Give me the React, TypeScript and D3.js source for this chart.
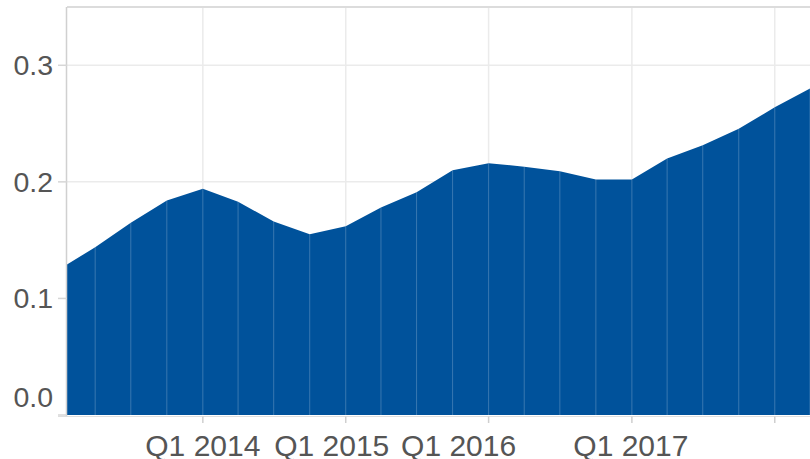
import React from "react";
import { scaleUtc, scaleLinear, area, utcYear, utcParse } from "d3";

// quarterly series (first point sits where the plot starts)
const dates = [
  "2013-01-19", "2013-04-01", "2013-07-01", "2013-10-01",
  "2014-01-01", "2014-04-01", "2014-07-01", "2014-10-01",
  "2015-01-01", "2015-04-01", "2015-07-01", "2015-10-01",
  "2016-01-01", "2016-04-01", "2016-07-01", "2016-10-01",
  "2017-01-01", "2017-04-01", "2017-07-01", "2017-10-01",
  "2018-01-01", "2018-04-01",
];
const values = [
  0.129, 0.144, 0.165, 0.184,
  0.194, 0.183, 0.166, 0.155,
  0.162, 0.178, 0.191, 0.210,
  0.216, 0.213, 0.209, 0.202,
  0.202, 0.220, 0.2315, 0.2455,
  0.264, 0.280,
];
const yTicks = [0, 0.1, 0.2, 0.3];
const xTickLabels = ["Q1 2014", "Q1 2015", "Q1 2016", "Q1 2017", ""];
// label nudges seen in the original layout
const xLabelShift = [0, -14, -30, -1, 0];

const parse = utcParse("%Y-%m-%d");
const data = dates.map((d, i) => ({ date: parse(d) as Date, value: values[i] }));

const W = 810;
const H = 459;
const m = { left: 67, right: 0, top: 7, bottom: 415 };

export default function App() {
  const x = scaleUtc()
    .domain([data[0].date, data[data.length - 1].date])
    .range([m.left, W - m.right]);
  const y = scaleLinear().domain([0, 0.35]).range([m.bottom, m.top]);

  const areaGen = area<{ date: Date; value: number }>()
    .x((d) => x(d.date))
    .y0(y(0))
    .y1((d) => y(d.value));

  const yearTicks = x.ticks(utcYear.every(1) as any);
  const grey = "#555";

  return (
    <svg
      width={W}
      height={H}
      style={{ position: "absolute", left: 0, top: 0, fontFamily: "'Liberation Sans', Arial, sans-serif" }}
    >
      <rect width={W} height={H} fill="#fff" />
      {/* gridlines */}
      {yTicks.slice(1).map((t) => (
        <line key={t} x1={m.left} x2={W} y1={y(t)} y2={y(t)} stroke="#ebebeb" strokeWidth={1.5} />
      ))}
      {yearTicks.map((t, i) => (
        <line key={i} x1={x(t)} x2={x(t)} y1={m.top} y2={m.bottom} stroke="#ebebeb" strokeWidth={1.5} />
      ))}
      {/* area */}
      <path d={areaGen(data) || ""} fill="#00529b" />
      {data.slice(1).map((d, i) => (
        <line
          key={i}
          x1={x(d.date)}
          x2={x(d.date)}
          y1={y(0)}
          y2={y(d.value)}
          stroke="rgba(255,255,255,0.22)"
          strokeWidth={1}
        />
      ))}
      {/* frame */}
      <line x1={m.left} x2={W} y1={m.top} y2={m.top} stroke="#dcdcdc" strokeWidth={2} />
      <line x1={m.left - 0.5} x2={m.left - 0.5} y1={m.top} y2={m.bottom + 1.5} stroke="#d0d0d0" strokeWidth={1.5} />
      <line x1={m.left - 9} x2={W} y1={m.bottom + 1.5} y2={m.bottom + 1.5} stroke="#dedede" strokeWidth={1} />
      {/* y axis */}
      {yTicks.map((t) => (
        <g key={t}>
          <line x1={m.left - 9} x2={m.left} y1={y(t)} y2={y(t)} stroke="#d6d6d6" strokeWidth={1.5} />
          <text
            x={m.left - 14}
            y={y(t) + (t === 0 ? -8 : 10)}
            textAnchor="end"
            fontSize={28.5}
            fill={grey}
          >
            {t.toFixed(1)}
          </text>
        </g>
      ))}
      {/* x axis */}
      {yearTicks.map((t, i) => (
        <g key={i}>
          <line x1={x(t)} x2={x(t)} y1={m.bottom + 1.5} y2={m.bottom + 8} stroke="#cfcfcf" strokeWidth={1.5} />
          <text x={x(t) + xLabelShift[i]} y={456} textAnchor="middle" fontSize={30} fill={grey}>
            {xTickLabels[i]}
          </text>
        </g>
      ))}
    </svg>
  );
}
